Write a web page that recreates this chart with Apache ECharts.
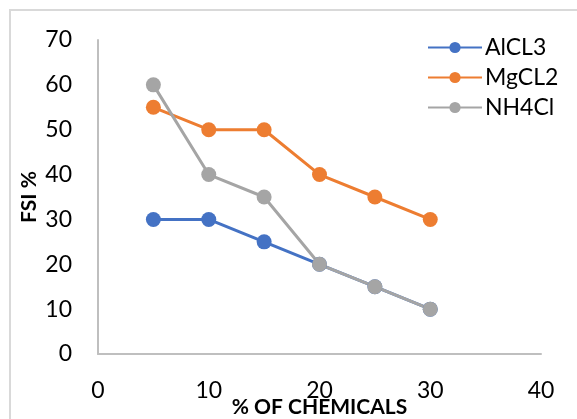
<!DOCTYPE html>
<html>
<head>
<meta charset="utf-8">
<script src="https://cdn.jsdelivr.net/npm/echarts@6/dist/echarts.min.js"></script>
<style>
html,body{margin:0;padding:0;background:#fff;}
#chart{width:577px;height:419px;}
</style>
</head>
<body>
<div id="chart"></div>
<script>
const xValues = [5, 10, 15, 20, 25, 30];
const seriesNames = ['AlCL3', 'MgCL2', 'NH4Cl'];
const alcl3 = [30, 30, 25, 20, 15, 10];
const mgcl2 = [55, 50, 50, 40, 35, 30];
const nh4cl = [60, 40, 35, 20, 15, 10];
const colors = ['#4472C4', '#ED7D31', '#A5A5A5'];
const xTitle = '% OF CHEMICALS';
const yTitle = 'FSI %';

const FONT = 'Lato';
const chart = echarts.init(document.getElementById('chart'));
function mk(name, data, color) {
  return {
    name: name,
    type: 'line',
    data: xValues.map((x, i) => [x, data[i]]),
    symbol: 'circle',
    symbolSize: 15,
    color: color,
    lineStyle: { width: 3, color: color },
    itemStyle: { color: color },
    animation: false
  };
}
chart.setOption({
  backgroundColor: '#fff',
  textStyle: { fontFamily: FONT },
  graphic: [
    { type: 'rect', shape: { x: 10, y: 10, width: 700, height: 600 },
      style: { fill: 'none', stroke: '#D9D9D9', lineWidth: 2 }, silent: true },
    { type: 'text', left: 20, top: -24,
      style: { text: 'g', font: '23px ' + FONT, fill: '#000' } }
  ],
  grid: { left: 98, right: 36, top: 40, bottom: 65, outerBoundsMode: 'none', containLabel: false },
  legend: {
    orient: 'vertical',
    left: 422,
    top: 31,
    itemWidth: 54,
    itemHeight: 14,
    itemGap: 7,
    textStyle: { fontSize: 23, color: '#000', fontFamily: FONT, lineHeight: 23, padding: [0, 0, 0, -2] },
    data: seriesNames
  },
  xAxis: {
    type: 'value',
    min: 0, max: 40, interval: 10,
    name: xTitle,
    nameLocation: 'middle',
    nameGap: 43,
    nameMoveOverlap: false,
    nameTextStyle: { fontSize: 21, fontWeight: 'bold', color: '#000', fontFamily: FONT },
    axisLine: { show: true, lineStyle: { color: '#BFBFBF', width: 2 } },
    axisTick: { show: false },
    splitLine: { show: false },
    axisLabel: { fontSize: 23, color: '#000', margin: 25, fontFamily: FONT }
  },
  yAxis: {
    type: 'value',
    min: 0, max: 70, interval: 10,
    name: yTitle,
    nameLocation: 'middle',
    nameGap: 58,
    nameRotate: 90,
    nameMoveOverlap: false,
    nameTextStyle: { fontSize: 21, fontWeight: 'bold', color: '#000', fontFamily: FONT },
    axisLine: { show: true, lineStyle: { color: '#BFBFBF', width: 2 } },
    axisTick: { show: false },
    splitLine: { show: false },
    axisLabel: { fontSize: 23, color: '#000', margin: 26, fontFamily: FONT }
  },
  series: [mk('AlCL3', alcl3, colors[0]), mk('MgCL2', mgcl2, colors[1]), mk('NH4Cl', nh4cl, colors[2])]
});
</script>
</body>
</html>
